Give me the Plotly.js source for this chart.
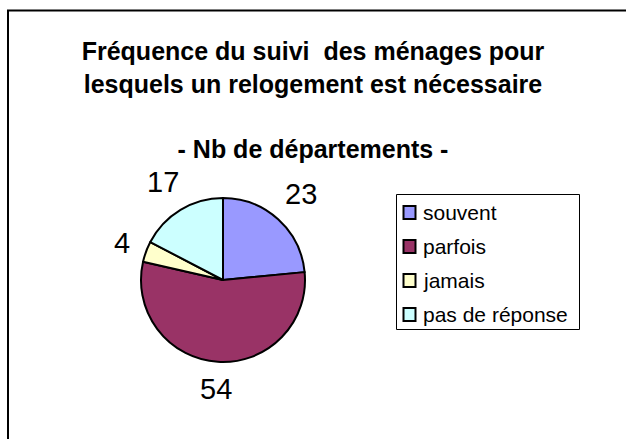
<!DOCTYPE html>
<html>
<head>
<meta charset="utf-8">
<script src="https://cdn.plot.ly/plotly-3.0.1.min.js"></script>
<style>
  html, body { margin: 0; padding: 0; background: #fff; }
  #chart { width: 626px; height: 439px; }
</style>
</head>
<body>
<div id="chart"></div>
<script>
// Fréquence du suivi - nombre de départements
const labels = ['souvent', 'parfois', 'jamais', 'pas de réponse'];
const values = [23, 54, 4, 17];
const colors = ['#9999FF', '#993366', '#FFFFCC', '#CCFFFF'];

const titleText = 'Fréquence du suivi  des ménages pour<br>lesquels un relogement est nécessaire<br><br>- Nb de départements -';

const W = 626, H = 439;
const font = 'Arial, "Liberation Sans", sans-serif';

// pie geometry (pixels)
const cx = 223, cy = 280, R = 82;

const trace = {
    type: 'pie',
    labels: labels,
    values: values,
    sort: false,
    direction: 'clockwise',
    rotation: 0,
    marker: {
        colors: colors,
        line: { color: '#000', width: 2 }
    },
    textinfo: 'none',
    hoverinfo: 'label+value',
    showlegend: false,
    domain: {
        x: [(cx - R) / W, (cx + R) / W],
        y: [1 - (cy + R) / H, 1 - (cy - R) / H]
    }
};

// étiquettes des valeurs autour du camembert
const annotations = [];
const total = values.reduce((a, b) => a + b, 0);
let cum = 0;
values.forEach(function(v) {
    const mid = (cum + v / 2) / total * 2 * Math.PI;
    cum += v;
    const ux = Math.sin(mid), uy = -Math.cos(mid);
    const txt = String(v);
    const hw = txt.length * 8.5, hh = 12;
    const d = R + 14 + Math.abs(ux) * hw + Math.abs(uy) * hh;
    annotations.push({
        text: txt,
        xref: 'paper', yref: 'paper',
        x: (cx + ux * d) / W,
        y: 1 - (cy + uy * d) / H,
        xanchor: 'center', yanchor: 'middle',
        showarrow: false,
        font: { family: font, size: 29, color: '#000' }
    });
});

// légende
const shapes = [{
    type: 'rect',
    xref: 'paper', yref: 'paper',
    x0: 8 / W, x1: 1.02,
    y0: -0.02, y1: 1 - 10.5 / H,
    line: { color: '#000', width: 2 },
    fillcolor: 'rgba(0,0,0,0)'
}, {
    type: 'rect',
    xref: 'paper', yref: 'paper',
    x0: 396.5 / W, x1: 579.5 / W,
    y0: 1 - 329.5 / H, y1: 1 - 194.5 / H,
    line: { color: '#000', width: 1 },
    fillcolor: '#fff'
}];

labels.forEach(function(lab, i) {
    const yc = 212.5 + i * 34;
    shapes.push({
        type: 'rect',
        xref: 'paper', yref: 'paper',
        x0: 403.5 / W, x1: 415.5 / W,
        y0: 1 - (yc + 6.5) / H, y1: 1 - (yc - 6.5) / H,
        line: { color: '#000', width: 2 },
        fillcolor: colors[i]
    });
    annotations.push({
        text: lab,
        xref: 'paper', yref: 'paper',
        x: 421 / W,
        y: 1 - yc / H,
        xanchor: 'left', yanchor: 'middle',
        showarrow: false,
        font: { family: font, size: 21, color: '#000' }
    });
});

const layout = {
    width: W,
    height: H,
    margin: { l: 0, r: 0, t: 0, b: 0 },
    paper_bgcolor: '#fff',
    font: { family: font, color: '#000' },
    title: {
        text: titleText,
        font: { family: font, size: 25, color: '#000', weight: 'bold' },
        x: 0.5,
        xanchor: 'center',
        xref: 'paper',
        y: 1 - 60 / H,
        yref: 'paper',
        yanchor: 'top'
    },
    showlegend: false,
    shapes: shapes,
    annotations: annotations
};

Plotly.newPlot('chart', [trace], layout, { displayModeBar: false, staticPlot: true });
</script>
</body>
</html>
